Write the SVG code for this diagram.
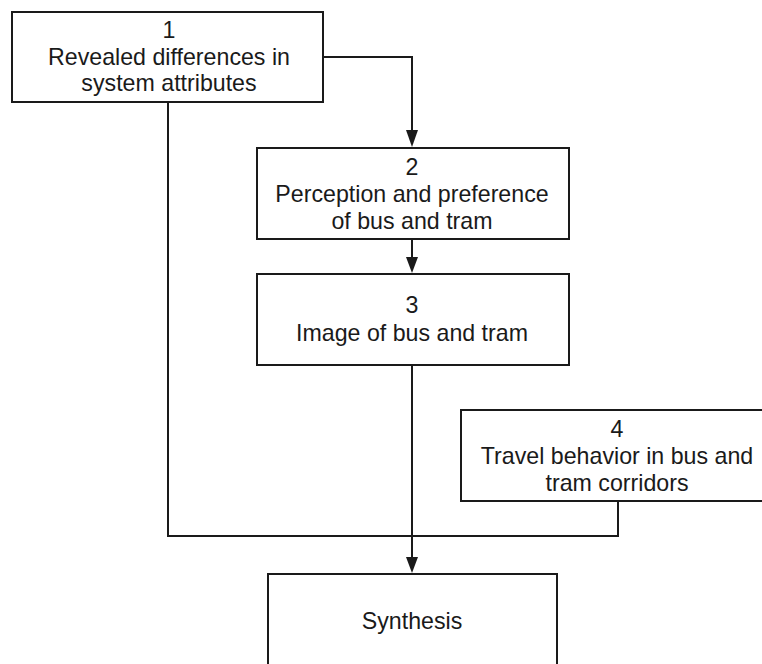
<svg xmlns="http://www.w3.org/2000/svg" width="762" height="664" viewBox="0 0 762 664">
<style>
.box{fill:#fff;stroke:#1a1a1a;stroke-width:2}
.t{font-family:"Liberation Sans",Arial,sans-serif;font-size:23.2px;fill:#1a1a1a;text-anchor:middle}
.c{fill:none;stroke:#1a1a1a;stroke-width:2}
.ah{fill:#1a1a1a}
</style>
<rect width="762" height="664" fill="#fff"/>
<g id="connectors">
<path class="c" d="M323,57 H412 V130"/>
<path class="ah" d="M406,130 L418,130 L412,147 Z"/>
<path class="c" d="M412,239 V257"/>
<path class="ah" d="M406,257 L418,257 L412,273 Z"/>
<path class="c" d="M412,365 V557"/>
<path class="ah" d="M406,557 L418,557 L412,573 Z"/>
<path class="c" d="M168,102 V536 H618 V501"/>
</g>
<g id="node1">
<rect class="box" x="12" y="12" width="311" height="90"/>
<text class="t" x="169" y="38">1</text>
<text class="t" x="169" y="65">Revealed differences in</text>
<text class="t" x="169" y="91">system attributes</text>
</g>
<g id="node2">
<rect class="box" x="257" y="148" width="312" height="91"/>
<text class="t" x="412" y="175">2</text>
<text class="t" x="412" y="202">Perception and preference</text>
<text class="t" x="412" y="229">of bus and tram</text>
</g>
<g id="node3">
<rect class="box" x="257" y="274" width="312" height="91"/>
<text class="t" x="412" y="313">3</text>
<text class="t" x="412" y="341">Image of bus and tram</text>
</g>
<g id="node4">
<rect class="box" x="461" y="410" width="312" height="91"/>
<text class="t" x="617" y="437">4</text>
<text class="t" x="617" y="464">Travel behavior in bus and</text>
<text class="t" x="617" y="491">tram corridors</text>
</g>
<g id="synthesis">
<rect class="box" x="268" y="574" width="289" height="100"/>
<text class="t" x="412" y="629">Synthesis</text>
</g>
</svg>
